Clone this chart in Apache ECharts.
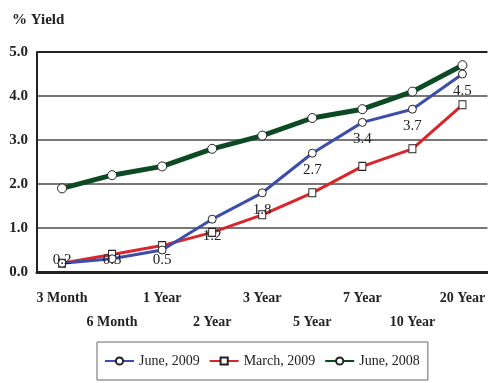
<!DOCTYPE html>
<html>
<head>
<meta charset="utf-8">
<script src="https://cdn.jsdelivr.net/npm/echarts@6/dist/echarts.min.js"></script>
<style>
  html, body { margin: 0; padding: 0; background: #fff; }
  #chart { width: 488px; height: 383px; }
</style>
</head>
<body>
<div id="chart"></div>
<script>
// Treasury yield curve at three dates
const maturities = ['3 Month', '6 Month', '1 Year', '2 Year', '3 Year', '5 Year', '7 Year', '10 Year', '20 Year'];
const june2009 = [0.2, 0.3, 0.5, 1.2, 1.8, 2.7, 3.4, 3.7, 4.5];
const march2009 = [0.2, 0.4, 0.6, 0.9, 1.3, 1.8, 2.4, 2.8, 3.8];
const june2008 = [1.9, 2.2, 2.4, 2.8, 3.1, 3.5, 3.7, 4.1, 4.7];
const yTicks = ['0.0', '1.0', '2.0', '3.0', '4.0', '5.0'];

const FONT = 'Liberation Serif';
const INK = '#222';
const PLOT_BOTTOM = 272;

const chart = echarts.init(document.getElementById('chart'), null, { renderer: 'canvas' });

const markerStyle = { color: '#fff', borderColor: '#222', borderWidth: 1 };

chart.setOption({
  animation: false,
  backgroundColor: '#fff',
  title: {
    text: '% Yield',
    left: 7,
    top: 8,
    textStyle: { fontFamily: FONT, fontSize: 15, fontWeight: 'bold', color: INK }
  },
  grid: { left: 37, top: 52, width: 454, height: PLOT_BOTTOM - 52 },
  legend: {
    left: 97,
    top: 342,
    padding: [12, 8, 12, 7],
    itemGap: 9,
    itemWidth: 29,
    itemHeight: 9,
    borderColor: '#666',
    borderWidth: 1,
    textStyle: { fontFamily: FONT, fontSize: 14, color: INK },
    data: ['June, 2009', 'March, 2009', 'June, 2008']
  },
  xAxis: {
    type: 'category',
    data: maturities,
    boundaryGap: true,
    axisLine: { lineStyle: { color: INK, width: 3 } },
    axisTick: { show: false },
    axisLabel: {
      interval: 0,
      margin: 14,
      lineHeight: 24,
      fontFamily: FONT,
      fontSize: 14,
      fontWeight: 'bold',
      color: INK,
      formatter: (v, i) => (i % 2 ? '\n' + v : v)
    }
  },
  yAxis: {
    type: 'value',
    min: 0,
    max: 5,
    interval: 1,
    axisLine: { show: true, lineStyle: { color: INK, width: 2 } },
    axisTick: { show: false },
    splitLine: {
      lineStyle: { color: ['#777', '#777', '#777', '#777', '#777', INK], width: 2 }
    },
    axisLabel: {
      margin: 9,
      fontFamily: FONT,
      fontSize: 15,
      fontWeight: 'bold',
      color: INK,
      formatter: (v) => yTicks[Math.round(v)]
    }
  },
  series: [
    {
      name: 'June, 2009',
      type: 'line',
      data: june2009,
      symbol: 'circle',
      symbolSize: 8,
      lineStyle: { color: '#3c4ea8', width: 3 },
      itemStyle: Object.assign({}, markerStyle),
      color: '#3c4ea8',
      label: {
        show: true,
        position: 'bottom',
        distance: 5,
        fontFamily: FONT,
        fontSize: 15,
        color: INK,
        formatter: (p) => p.value.toFixed(1)
      },
      // keep the labels of the short maturities above the x axis
      labelLayout: (params) => {
        const r = params.labelRect;
        const over = r.y + r.height - (PLOT_BOTTOM - 4);
        return over > 0 ? { dy: -over } : {};
      },
      z: 3
    },
    {
      name: 'March, 2009',
      type: 'line',
      data: march2009,
      symbol: 'rect',
      symbolSize: [7, 8],
      lineStyle: { color: '#d9262b', width: 3 },
      itemStyle: Object.assign({}, markerStyle),
      color: '#d9262b',
      z: 2
    },
    {
      name: 'June, 2008',
      type: 'line',
      data: june2008,
      symbol: 'circle',
      symbolSize: 9,
      lineStyle: { color: '#0c4a24', width: 5 },
      itemStyle: Object.assign({}, markerStyle),
      color: '#0c4a24',
      z: 2
    }
  ]
});
</script>
</body>
</html>
